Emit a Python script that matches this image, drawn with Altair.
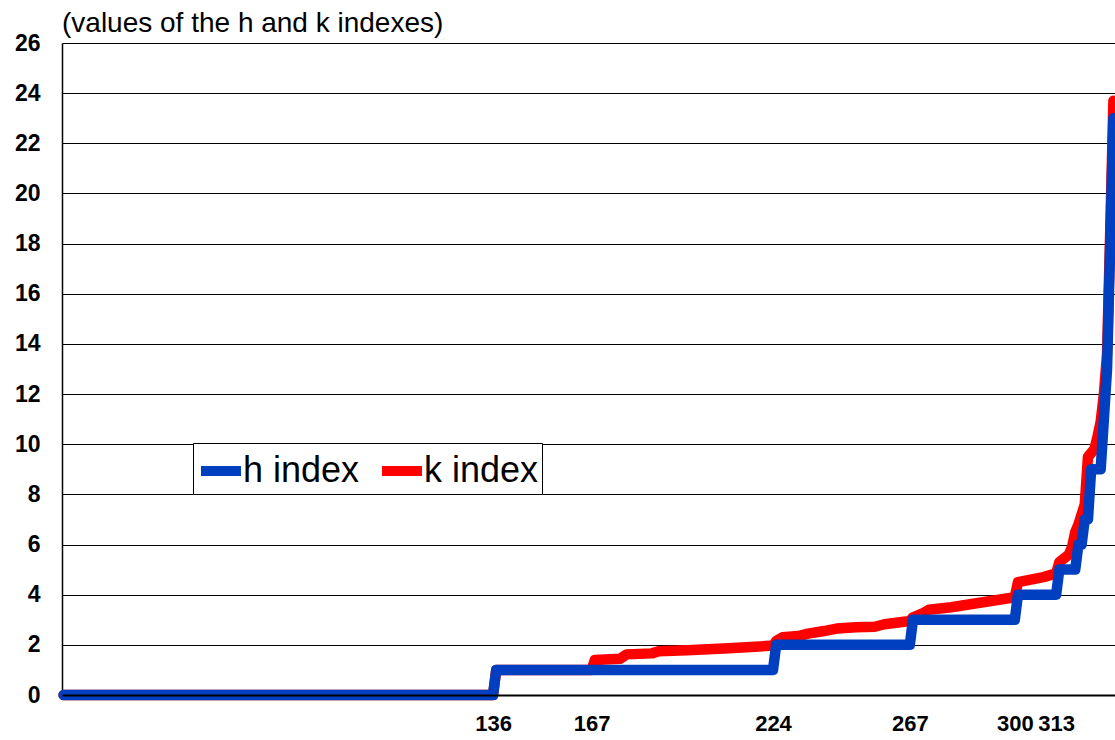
import altair as alt
import pandas as pd

# Rank of each paper (sorted ascending) and its h index / k index value
h_rank = [1, 136, 137, 224, 225, 267, 268, 300, 301, 313, 314, 319, 320, 321,
          322, 323, 324, 327, 328, 329, 330, 331]
h_value = [0, 0, 1, 1, 2, 2, 3, 3, 4, 4, 5, 5, 6, 6,
           7, 7, 9, 9, 11, 13, 18, 23]

k_rank = [1, 136, 137, 167, 168, 176, 178, 186, 188, 197, 210, 224, 225, 227,
          232, 235, 240, 244, 250, 256, 259, 264, 267, 268, 271, 273, 280, 285,
          290, 295, 300, 301, 305, 309, 313, 314, 315, 316, 317, 318, 319, 320,
          321, 322, 323, 324, 325, 326, 327, 328, 329, 330, 331]
k_value = [0, 0, 1, 1, 1.4, 1.45, 1.62, 1.66, 1.74, 1.78, 1.86, 1.97, 2.15, 2.3,
           2.35, 2.45, 2.55, 2.65, 2.7, 2.72, 2.82, 2.9, 2.95, 3.1, 3.25, 3.4, 3.5, 3.6,
           3.7, 3.8, 3.9, 4.5, 4.6, 4.7, 4.85, 5.3, 5.4, 5.5, 5.6, 5.9, 6.5, 6.8,
           7.2, 7.6, 9.5, 9.65, 9.8, 10.3, 10.9, 12.0, 13.6, 18.5, 23.7]

x_ticks = [136, 167, 224, 267, 300, 313]
y_ticks = list(range(0, 27, 2))
series_names = ["h index", "k index"]
series_colors = ["#0040C0", "#FF0000"]

FONT = "Liberation Sans"

h_df = pd.DataFrame({"rank": h_rank, "value": h_value, "series": "h index"})
k_df = pd.DataFrame({"rank": k_rank, "value": k_value, "series": "k index"})

x_enc = alt.X(
    "rank:Q",
    scale=alt.Scale(domain=[0.5, 331.5], nice=False, zero=False),
    axis=alt.Axis(
        values=x_ticks, title=None, grid=False, ticks=False,
        domainColor="black", domainWidth=2, labelFont=FONT, labelFontSize=22,
        labelFontWeight="bold", labelColor="black", labelPadding=18,
        labelOverlap=False, labelFlush=False, zindex=1,
    ),
)
y_enc = alt.Y(
    "value:Q",
    scale=alt.Scale(domain=[0, 26], nice=False),
    axis=alt.Axis(
        values=y_ticks, title=None, ticks=False, grid=True,
        gridColor="black", gridWidth=1, gridOpacity=1,
        domainColor="black", domainWidth=1.5, labelFont=FONT, labelFontSize=23,
        labelFontWeight="bold", labelColor="black", labelPadding=22,
    ),
)
color_enc = alt.Color(
    "series:N",
    scale=alt.Scale(domain=series_names, range=series_colors),
    legend=alt.Legend(
        title=None, orient="none", legendX=131, legendY=400,
        direction="horizontal", fillColor="white", strokeColor="black",
        padding=3, symbolType="stroke", symbolSize=1600, symbolStrokeWidth=10,
        labelFont=FONT, labelFontSize=36, labelColor="black",
        labelOffset={"expr": "-3"}, columnPadding=2,
    ),
)

line_style = dict(strokeWidth=10.5, strokeCap="round", strokeJoin="round")

k_line = alt.Chart(k_df).mark_line(**line_style).encode(x=x_enc, y=y_enc, color=color_enc)
h_line = alt.Chart(h_df).mark_line(**line_style).encode(x=x_enc, y=y_enc, color=color_enc)

chart = (
    alt.layer(k_line, h_line)
    .properties(
        width=1053,
        height=652,
        autosize="none",
        padding={"left": 62, "top": 43, "right": 0, "bottom": 45},
        title=alt.TitleParams(
            "(values of the h and k indexes)", anchor="start", frame="group",
            font=FONT, fontSize=28, fontWeight="normal", color="black", offset=-6,
        ),
    )
    .configure_view(stroke=None)
    .configure(background="white")
)

chart.save("out.html", embed_options={"renderer": "svg", "actions": False})
